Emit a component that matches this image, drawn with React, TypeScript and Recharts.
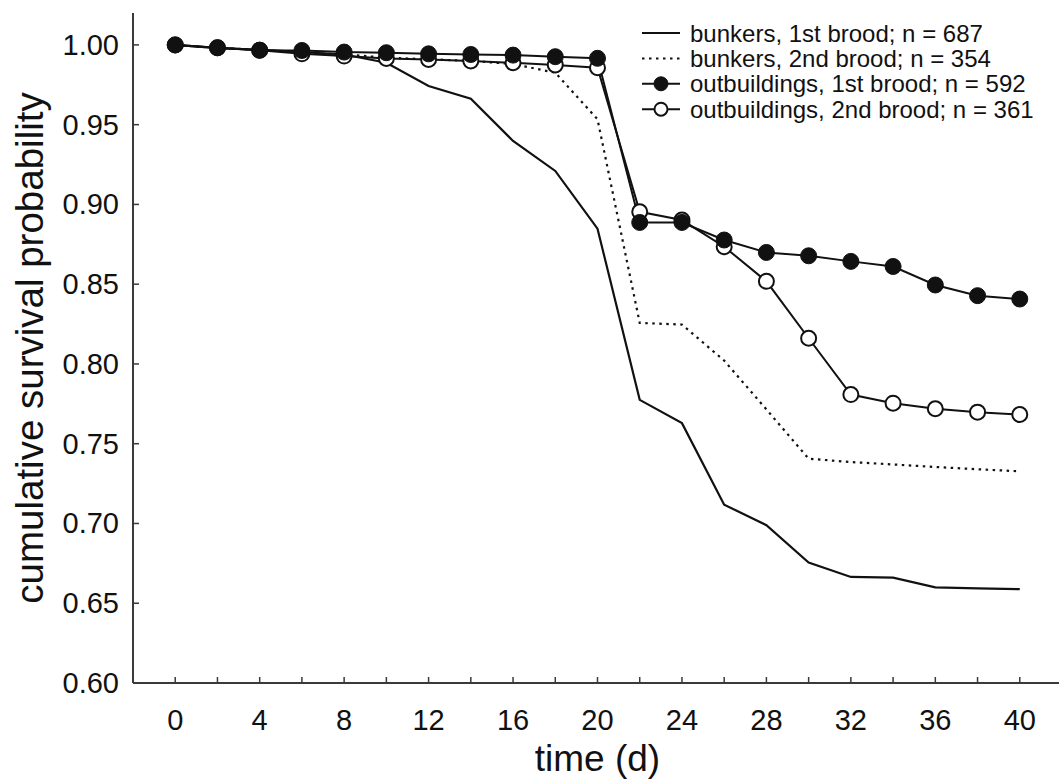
import React from 'react';
import { LineChart, Line, XAxis, YAxis, Legend } from 'recharts';

const days = [0, 2, 4, 6, 8, 10, 12, 14, 16, 18, 20, 22, 24, 26, 28, 30, 32, 34, 36, 38, 40];
const bunkers1 = [1.0, 0.998, 0.997, 0.9955, 0.994, 0.9888, 0.9742, 0.9663, 0.9398, 0.921, 0.8848, 0.7775, 0.7629, 0.7118, 0.6989, 0.6755, 0.6665, 0.6661, 0.6599, 0.6593, 0.6588];
const bunkers2 = [1.0, 0.998, 0.997, 0.995, 0.994, 0.992, 0.991, 0.99, 0.988, 0.9826, 0.9534, 0.8257, 0.8247, 0.8021, 0.7715, 0.7406, 0.7385, 0.737, 0.7354, 0.734, 0.7327];
const outbuild1 = [1.0, 0.9982, 0.9967, 0.9965, 0.9955, 0.9951, 0.9944, 0.994, 0.9936, 0.9926, 0.9916, 0.8887, 0.8887, 0.8777, 0.8699, 0.8678, 0.8643, 0.8611, 0.8495, 0.8428, 0.8407];
const outbuild2 = [1.0, 0.9982, 0.9967, 0.9944, 0.993, 0.9915, 0.9909, 0.9899, 0.9888, 0.9874, 0.9857, 0.8954, 0.8902, 0.8735, 0.8518, 0.8161, 0.7808, 0.7754, 0.7719, 0.7698, 0.7683];

const xTicks = [0, 2, 4, 6, 8, 10, 12, 14, 16, 18, 20, 22, 24, 26, 28, 30, 32, 34, 36, 38, 40];
const yTicks = [0.6, 0.65, 0.7, 0.75, 0.8, 0.85, 0.9, 0.95, 1.0];

const legendItems = [
  { label: 'bunkers, 1st brood; n = 687', kind: 'solid' },
  { label: 'bunkers, 2nd brood; n = 354', kind: 'dotted' },
  { label: 'outbuildings, 1st brood; n = 592', kind: 'filled' },
  { label: 'outbuildings, 2nd brood; n = 361', kind: 'open' },
];

const data = days.map((d, i) => ({
  day: d,
  b1: bunkers1[i],
  b2: bunkers2[i],
  o1: outbuild1[i],
  o2: outbuild2[i],
}));

const ink = '#111';
const axisColor = '#3a3a3a';
const dotted = '2.5 4.5';

const XTick = (props: any) => {
  const { x, y, payload } = props;
  return (
    <g>
      <line x1={x} y1={y} x2={x} y2={y - 6} stroke={axisColor} strokeWidth={1.5} />
      {payload.value % 4 === 0 && (
        <text x={x} y={y + 47} textAnchor="middle" fontSize={29} fill={ink}>
          {payload.value}
        </text>
      )}
    </g>
  );
};

const YTick = (props: any) => {
  const { x, y, payload } = props;
  return (
    <g>
      <line x1={x} y1={y} x2={x + 6} y2={y} stroke={axisColor} strokeWidth={1.5} />
      <text x={x - 14} y={y + 10} textAnchor="end" fontSize={29} fill={ink}>
        {Number(payload.value).toFixed(2)}
      </text>
    </g>
  );
};

const YTitle = (props: any) => {
  const vb = props.viewBox;
  const cx = vb.x + 43;
  const cy = vb.y + vb.height / 2;
  return (
    <text x={cx} y={cy} transform={`rotate(-90, ${cx}, ${cy})`} textAnchor="middle" fontSize={38.5} fill={ink}>
      cumulative survival probability
    </text>
  );
};

const XTitle = (props: any) => {
  const vb = props.viewBox;
  return (
    <text x={vb.x + vb.width / 2} y={vb.y + 88} textAnchor="middle" fontSize={37} fill={ink}>
      time (d)
    </text>
  );
};

const renderLegend = () => (
  <svg width={400} height={104}>
    {legendItems.map((item, i) => {
      const cy = 13 + i * 25.4;
      return (
        <g key={item.label}>
          <line
            x1={4}
            x2={42}
            y1={cy}
            y2={cy}
            stroke={ink}
            strokeWidth={2}
            strokeDasharray={item.kind === 'dotted' ? dotted : undefined}
          />
          {item.kind === 'filled' && <circle cx={23} cy={cy} r={7} fill={ink} stroke={ink} />}
          {item.kind === 'open' && <circle cx={23} cy={cy} r={6.5} fill="#fff" stroke={ink} strokeWidth={2} />}
          <text x={52} y={cy + 8.5} fontSize={24} fill={ink}>
            {item.label}
          </text>
        </g>
      );
    })}
  </svg>
);

export default function App() {
  return (
    <div
      style={{
        position: 'absolute',
        left: 0,
        top: 0,
        width: 1059,
        height: 781,
        overflow: 'hidden',
        background: '#fff',
        fontFamily: '"Liberation Sans", Arial, sans-serif',
      }}
    >
      <LineChart width={1100} height={781} data={data} margin={{ top: 13, right: 38, bottom: 0, left: 0 }}>
        <XAxis
          dataKey="day"
          type="number"
          domain={[-2, 42]}
          ticks={xTicks}
          interval={0}
          tickSize={0}
          tickMargin={0}
          tickLine={false}
          tick={<XTick />}
          height={98}
          axisLine={{ stroke: axisColor, strokeWidth: 2 }}
          label={<XTitle />}
        />
        <XAxis
          xAxisId="top"
          orientation="top"
          dataKey="day"
          type="number"
          domain={[-2, 42]}
          height={0}
          tick={false}
          tickLine={false}
          axisLine={{ stroke: axisColor, strokeWidth: 2 }}
        />
        <YAxis
          type="number"
          domain={[0.6, 1.02]}
          ticks={yTicks}
          interval={0}
          allowDataOverflow
          tickSize={0}
          tickMargin={0}
          tickLine={false}
          tick={<YTick />}
          width={133}
          axisLine={{ stroke: axisColor, strokeWidth: 2 }}
          label={<YTitle />}
        />
        <Legend
          layout="vertical"
          align="center"
          verticalAlign="middle"
          content={renderLegend}
          wrapperStyle={{ top: 20, left: 638, width: 400, height: 104 }}
        />
        <Line dataKey="b1" stroke={ink} strokeWidth={2.2} dot={false} isAnimationActive={false} />
        <Line dataKey="b2" stroke={ink} strokeWidth={2.2} strokeDasharray={dotted} dot={false} isAnimationActive={false} />
        <Line
          dataKey="o2"
          stroke={ink}
          strokeWidth={2}
          dot={{ r: 7.5, fill: '#fff', stroke: ink, strokeWidth: 2 }}
          isAnimationActive={false}
        />
        <Line
          dataKey="o1"
          stroke={ink}
          strokeWidth={2}
          dot={{ r: 8, fill: ink, stroke: ink, strokeWidth: 1 }}
          isAnimationActive={false}
        />
      </LineChart>
    </div>
  );
}
